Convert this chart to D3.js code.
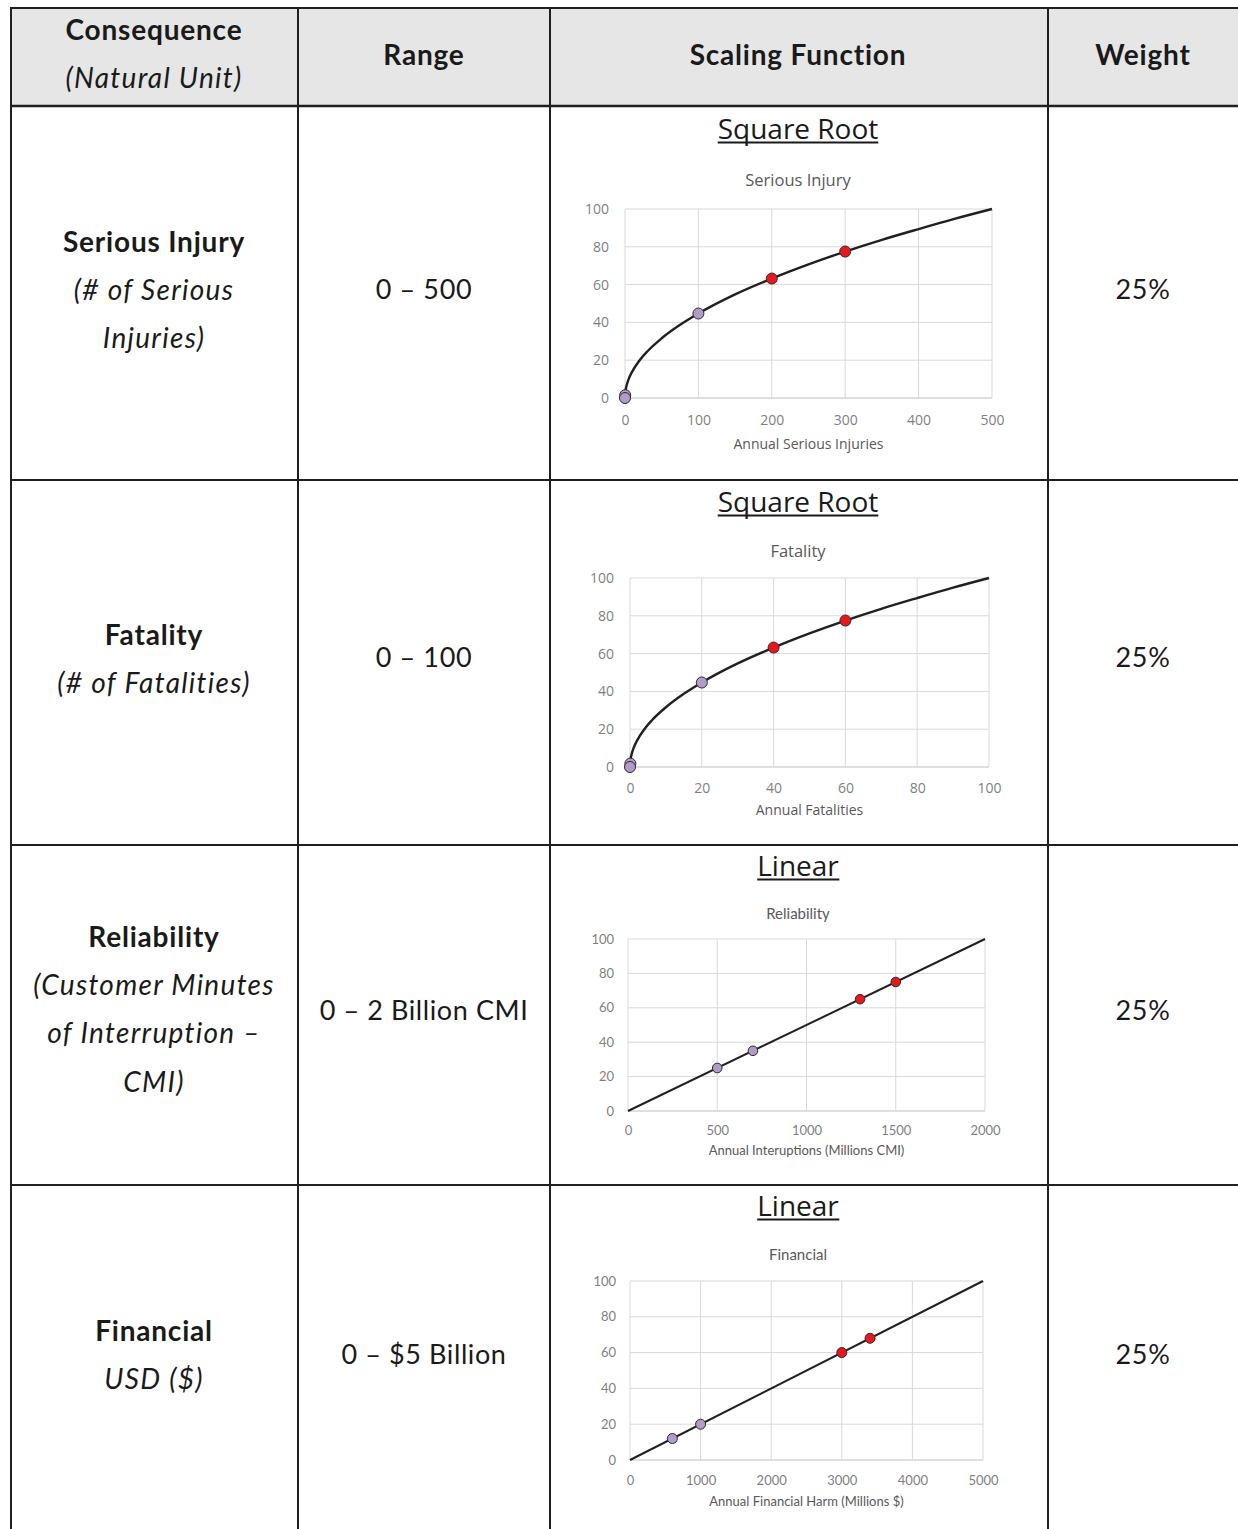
<!DOCTYPE html>
<html>
<head>
<meta charset="utf-8">
<script src="https://cdn.jsdelivr.net/npm/d3@7/dist/d3.min.js"></script>
<style>
  html, body { margin: 0; padding: 0; background: #fff; }
  svg { display: block; }
</style>
</head>
<body>
<svg id="table" width="1238" height="1529"></svg>
<script>
// ---- Table content ----
const headerTitles = ["Range", "Scaling Function", "Weight"];
const consequenceNames = ["Serious Injury", "Fatality", "Reliability", "Financial"];
const consequenceUnits = [
  ["(# of Serious", "Injuries)"],
  ["(# of Fatalities)"],
  ["(Customer Minutes", "of Interruption –", "CMI)"],
  ["USD ($)"]
];
const ranges = ["0 – 500", "0 – 100", "0 – 2 Billion CMI", "0 – $5 Billion"];
const weights = ["25%", "25%", "25%", "25%"];
const functionNames = ["Square Root", "Square Root", "Linear", "Linear"];

// ---- Chart content ----
const chartTitles = ["Serious Injury", "Fatality", "Reliability", "Financial"];
const axisTitles = ["Annual Serious Injuries", "Annual Fatalities",
                    "Annual Interuptions (Millions CMI)", "Annual Financial Harm (Millions $)"];
const xTicks = [
  [0, 100, 200, 300, 400, 500],
  [0, 20, 40, 60, 80, 100],
  [0, 500, 1000, 1500, 2000],
  [0, 1000, 2000, 3000, 4000, 5000]
];
const yTicks = [0, 20, 40, 60, 80, 100];

// scaling curves (natural unit -> score)
const injuryCurveX = [0, 1, 2, 5, 10, 20, 30, 50, 75, 100, 150, 200, 250, 300, 350, 400, 450, 500];
const injuryCurveY = [0, 4.5, 6.3, 10, 14.1, 20, 24.5, 31.6, 38.7, 44.7, 54.8, 63.2, 70.7, 77.5, 83.7, 89.4, 94.9, 100];
const fatalityCurveX = [0, 0.2, 0.4, 1, 2, 4, 6, 10, 15, 20, 30, 40, 50, 60, 70, 80, 90, 100];
const fatalityCurveY = [0, 4.5, 6.3, 10, 14.1, 20, 24.5, 31.6, 38.7, 44.7, 54.8, 63.2, 70.7, 77.5, 83.7, 89.4, 94.9, 100];
const reliabilityLineX = [0, 2000];
const reliabilityLineY = [0, 100];
const financialLineX = [0, 5000];
const financialLineY = [0, 100];

// highlighted points: lower (purple) and upper (red)
const injuryLowX = [0.3, 0, 100], injuryLowY = [1.5, 0, 44.7];
const injuryHighX = [200, 300], injuryHighY = [63.2, 77.5];
const fatalityLowX = [0.1, 0, 20], fatalityLowY = [1.8, 0, 44.7];
const fatalityHighX = [40, 60], fatalityHighY = [63.2, 77.5];
const reliabilityLowX = [500, 700], reliabilityLowY = [25, 35];
const reliabilityHighX = [1300, 1500], reliabilityHighY = [65, 75];
const financialLowX = [600, 1000], financialLowY = [12, 20];
const financialHighX = [3000, 3400], financialHighY = [60, 68];

const zip = (xs, ys) => xs.map((x, i) => ({ x, y: ys[i] }));

const charts = [
  { curve: zip(injuryCurveX, injuryCurveY), low: zip(injuryLowX, injuryLowY), high: zip(injuryHighX, injuryHighY), smooth: true },
  { curve: zip(fatalityCurveX, fatalityCurveY), low: zip(fatalityLowX, fatalityLowY), high: zip(fatalityHighX, fatalityHighY), smooth: true },
  { curve: zip(reliabilityLineX, reliabilityLineY), low: zip(reliabilityLowX, reliabilityLowY), high: zip(reliabilityHighX, reliabilityHighY), smooth: false },
  { curve: zip(financialLineX, financialLineY), low: zip(financialLowX, financialLowY), high: zip(financialHighX, financialHighY), smooth: false }
];

// ---- Layout ----
const svg = d3.select("#table");
const colX = [11, 298, 550, 1048, 1240];
const rowY = [8, 106, 480, 845, 1185, 1529];
const lineColor = "#231f20";
const tableFont = "Lato, 'Open Sans', sans-serif";
const chartFontA = "'Open Sans', 'Noto Sans', sans-serif";
const chartFontB = "Lato, 'Open Sans', sans-serif";

// header background
svg.append("rect").attr("x", colX[0]).attr("y", rowY[0])
  .attr("width", 1238 - colX[0]).attr("height", rowY[1] - rowY[0])
  .attr("fill", "#e6e6e6");

// text helpers for the three table styles
const boldText = sel => sel.attr("font-weight", 700).attr("font-size", 28).attr("letter-spacing", 0.8);
const italicText = sel => sel.attr("font-style", "italic").attr("font-size", 28).attr("letter-spacing", 1.3);
const plainText = sel => sel.attr("font-size", 27).attr("letter-spacing", 0.6);

// header text
const hdr = svg.append("g").attr("font-family", tableFont).attr("fill", "#1a1a1a")
  .attr("text-anchor", "middle");
hdr.append("text").attr("x", 154).attr("y", 30).attr("dy", "0.35em").call(boldText).text("Consequence");
hdr.append("text").attr("x", 154).attr("y", 78).attr("dy", "0.35em").call(italicText).text("(Natural Unit)");
[424, 798, 1143].forEach((cx, i) => {
  hdr.append("text").attr("x", cx).attr("y", 55).attr("dy", "0.35em").call(boldText).text(headerTitles[i]);
});

// body rows: consequence, range, weight
const nameY = [242, 635, 937, 1331];
const rangeY = [290, 658, 1011, 1355];
const body = svg.append("g").attr("font-family", tableFont).attr("fill", "#1a1a1a")
  .attr("text-anchor", "middle");
consequenceNames.forEach((name, i) => {
  body.append("text").attr("x", 154).attr("y", nameY[i]).attr("dy", "0.35em").call(boldText).text(name);
  consequenceUnits[i].forEach((u, j) => {
    body.append("text").attr("x", 154).attr("y", nameY[i] + 48 + j * 48.5).attr("dy", "0.35em")
      .call(italicText).text(u);
  });
  body.append("text").attr("x", 424).attr("y", rangeY[i]).attr("dy", "0.35em").call(plainText).text(ranges[i]);
  body.append("text").attr("x", 1143).attr("y", rangeY[i]).attr("dy", "0.35em").call(plainText).text(weights[i]);
});

// ---- Charts in the "Scaling Function" column ----
const plotBoxes = [
  { x0: 625, x1: 992, yT: 209, yB: 398, heading: 129, title: 180, tickY: 420, axisY: 444, font: chartFontA, tick: 14, ttl: 16.5, axt: 14, ylab: 609, r: 5.5 },
  { x0: 630, x1: 989, yT: 578, yB: 767, heading: 502, title: 551, tickY: 788, axisY: 810, font: chartFontA, tick: 14, ttl: 16.5, axt: 14, ylab: 614, r: 5.5 },
  { x0: 628, x1: 985, yT: 939, yB: 1111, heading: 866, title: 914, tickY: 1130, axisY: 1150, font: chartFontB, tick: 13, ttl: 15, axt: 13, ylab: 614, r: 4.8 },
  { x0: 630, x1: 983, yT: 1281, yB: 1460, heading: 1206, title: 1255, tickY: 1480, axisY: 1501, font: chartFontB, tick: 13, ttl: 15, axt: 13, ylab: 616, r: 5 }
];

charts.forEach((c, i) => {
  const b = plotBoxes[i];
  const ticks = xTicks[i];
  const x = d3.scaleLinear().domain([0, ticks[ticks.length - 1]]).range([b.x0, b.x1]);
  const y = d3.scaleLinear().domain([0, 100]).range([b.yB, b.yT]);
  const g = svg.append("g").attr("font-family", b.font);

  // function name heading, underlined
  const h = g.append("text").attr("x", 798).attr("y", b.heading).attr("dy", "0.35em")
    .attr("text-anchor", "middle").attr("font-family", chartFontA).attr("font-size", 28)
    .attr("fill", "#1a1a1a").text(functionNames[i]);
  const hb = h.node().getBBox();
  g.append("line").attr("x1", hb.x).attr("x2", hb.x + hb.width)
    .attr("y1", b.heading + 13.5).attr("y2", b.heading + 13.5)
    .attr("stroke", "#1a1a1a").attr("stroke-width", 2);

  // chart title
  g.append("text").attr("x", 798).attr("y", b.title).attr("dy", "0.35em")
    .attr("text-anchor", "middle").attr("font-size", b.ttl).attr("fill", "#595959")
    .text(chartTitles[i]);

  // gridlines
  g.append("g").selectAll("line").data(yTicks).join("line")
    .attr("x1", b.x0).attr("x2", b.x1).attr("y1", d => y(d)).attr("y2", d => y(d))
    .attr("stroke", d => d === 0 ? "#bfbfbf" : "#d9d9d9").attr("stroke-width", 1);
  g.append("g").selectAll("line").data(ticks).join("line")
    .attr("x1", d => x(d)).attr("x2", d => x(d)).attr("y1", b.yT).attr("y2", b.yB)
    .attr("stroke", "#d9d9d9").attr("stroke-width", 1);

  // axes (labels only)
  const xa = g.append("g").attr("transform", `translate(0,${b.tickY})`)
    .call(d3.axisBottom(x).tickValues(ticks).tickSize(0).tickPadding(0).tickFormat(d3.format("d")));
  xa.select(".domain").remove();
  xa.selectAll("text").attr("dy", "0.35em").attr("font-family", b.font)
    .attr("font-size", b.tick).attr("fill", "#7f7f7f");
  const ya = g.append("g").attr("transform", `translate(${b.ylab + 2},0)`)
    .call(d3.axisLeft(y).tickValues(yTicks).tickSize(0).tickPadding(2).tickFormat(d3.format("d")));
  ya.select(".domain").remove();
  ya.selectAll("text").attr("font-family", b.font).attr("font-size", b.tick).attr("fill", "#7f7f7f");

  // axis title
  g.append("text").attr("x", (b.x0 + b.x1) / 2).attr("y", b.axisY).attr("dy", "0.35em")
    .attr("text-anchor", "middle").attr("font-size", b.axt).attr("fill", "#595959")
    .text(axisTitles[i]);

  // scaling curve
  const line = d3.line().x(d => x(d.x)).y(d => y(d.y))
    .curve(c.smooth ? d3.curveMonotoneX : d3.curveLinear);
  g.append("path").datum(c.curve).attr("d", line).attr("fill", "none")
    .attr("stroke", "#231f20").attr("stroke-width", c.smooth ? 2.4 : 2);

  // markers
  g.append("g").selectAll("circle").data(c.low).join("circle")
    .attr("cx", d => x(d.x)).attr("cy", d => y(d.y)).attr("r", b.r)
    .attr("fill", "#b19cc9").attr("stroke", "#2b2b2b").attr("stroke-width", 1);
  g.append("g").selectAll("circle").data(c.high).join("circle")
    .attr("cx", d => x(d.x)).attr("cy", d => y(d.y)).attr("r", b.r)
    .attr("fill", "#e8171d").attr("stroke", "#2b2b2b").attr("stroke-width", 1);
});

// ---- Table rules ----
const rules = svg.append("g").attr("stroke", lineColor).attr("stroke-width", 2);
rowY.slice(0, 5).forEach((yy, i) => {
  rules.append("line").attr("x1", colX[0] - 1).attr("x2", 1238).attr("y1", yy).attr("y2", yy)
    .attr("stroke-width", i === 1 ? 2.5 : 2);
});
colX.slice(0, 4).forEach(xx => {
  rules.append("line").attr("x1", xx).attr("x2", xx).attr("y1", rowY[0] - 1).attr("y2", 1529);
});
</script>
</body>
</html>
